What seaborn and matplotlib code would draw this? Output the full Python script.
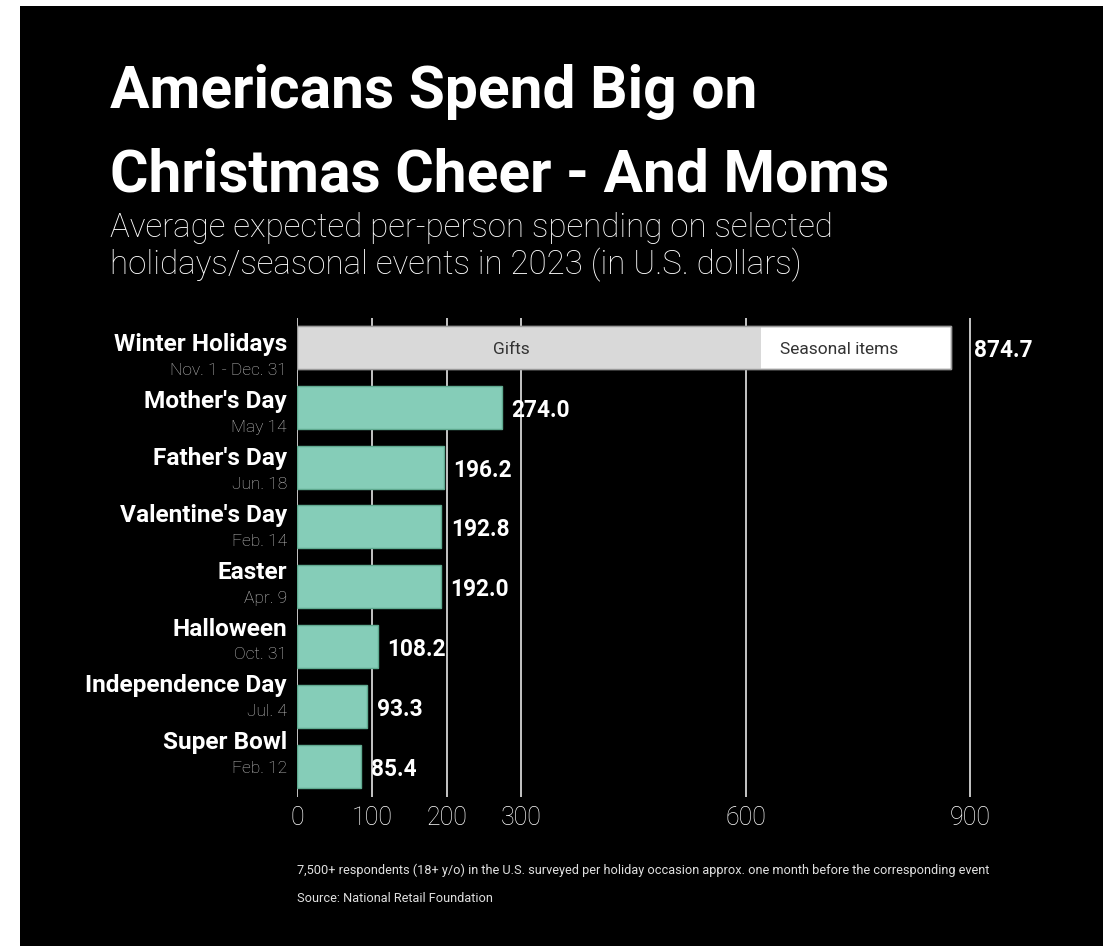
import matplotlib
matplotlib.use("Agg")
import matplotlib.pyplot as plt
import seaborn as sns
import pandas as pd
from matplotlib.patches import Rectangle
from matplotlib.transforms import blended_transform_factory

# ---------------- data ----------------
holidays = ["Winter Holidays", "Mother's Day", "Father's Day", "Valentine's Day",
            "Easter", "Halloween", "Independence Day", "Super Bowl"]
dates = ["Nov. 1 - Dec. 31", "May 14", "Jun. 18", "Feb. 14",
         "Apr. 9", "Oct. 31", "Jul. 4", "Feb. 12"]
spending = [874.7, 274.0, 196.2, 192.8, 192.0, 108.2, 93.3, 85.4]
winter_gifts = 620.0
segment_labels = ["Gifts", "Seasonal items"]
xticks = [0, 100, 200, 300, 600, 900]

title_lines = ["Americans Spend Big on", "Christmas Cheer - And Moms"]
subtitle_lines = ["Average expected per-person spending on selected",
                  "holidays/seasonal events in 2023 (in U.S. dollars)"]
footnote = ("7,500+ respondents (18+ y/o) in the U.S. surveyed per holiday occasion "
            "approx. one month before the corresponding event")
source = "Source: National Retail Foundation"

# ---------------- style ----------------
COND = ["Roboto", "DejaVu Sans"]
LIGHT = ["Roboto", "DejaVu Sans"]
TEAL = "#85cdb8"
TEAL_EDGE = "#5fa98f"
GIFT_COL = "#d9d9d9"
W, H = 1103, 946

fig = plt.figure(figsize=(W / 100, H / 100), dpi=100, facecolor="white")
fig.add_artist(Rectangle((20 / W, 0), 1 - 20 / W, 1 - 6 / H, transform=fig.transFigure,
                         facecolor="black", edgecolor="none", zorder=-10))

ax_left, ax_right_px = 297, 1045
ax_top_px, ax_bot_px = 318, 797
ax = fig.add_axes([ax_left / W, 1 - ax_bot_px / H, (ax_right_px - ax_left) / W,
                   (ax_bot_px - ax_top_px) / H])
ax.set_facecolor("none")

df = pd.DataFrame({"holiday": holidays, "spending": spending})
palette = {h: ("white" if i == 0 else TEAL) for i, h in enumerate(holidays)}
bar_h = 0.72
sns.barplot(data=df, x="spending", y="holiday", hue="holiday", palette=palette,
            legend=False, width=bar_h, saturation=1, orient="h", ax=ax,
            edgecolor=TEAL_EDGE, linewidth=1, zorder=2)
for i, p in enumerate(ax.patches):
    if i == 0:
        p.set_edgecolor("#9a9a9a")

# stacked gifts segment for winter holidays
ax.barh(0, winter_gifts, height=bar_h, color=GIFT_COL, linewidth=0, zorder=3)
ax.barh(0, spending[0], height=bar_h, fill=False, edgecolor="#9a9a9a", linewidth=1, zorder=4)

ax.set_xlim(0, 1000)
ax.set_ylim(7.517, -0.493)
ax.set_xticks(xticks)
ax.set_xticklabels([str(t) for t in xticks], fontsize=18, color="white",
                   family=LIGHT, fontweight="light")
ax.tick_params(axis="x", length=0, pad=6.5)
ax.set_yticks([])
ax.set_xlabel("")
ax.set_ylabel("")
for s in ax.spines.values():
    s.set_visible(False)
ax.grid(axis="x", color="#d4d4d4", linewidth=1.3)
ax.grid(axis="y", visible=False)
ax.set_axisbelow(True)

# segment labels
seg_left = [0, winter_gifts]
seg_width = [winter_gifts, spending[0] - winter_gifts]
for lab, l, w in zip(segment_labels, seg_left, seg_width):
    ax.text(l + w / 2 - 23, 0.11, lab, ha="center", va="baseline", fontsize=12.5,
            color="#333333", family=COND, zorder=5)

# value labels
for i, v in enumerate(spending):
    x = v + 13
    if i == 0:
        x = xticks[-1] + 5
    ax.text(x, i + 0.16, f"{v:.1f}", ha="left", va="baseline", fontsize=16.3,
            fontweight="bold", color="white", family=COND, zorder=5)

# category labels
trans = blended_transform_factory(fig.transFigure, ax.transData)
label_pitch = 0.9515
for i, (h, d) in enumerate(zip(holidays, dates)):
    yb = i * label_pitch + 0.06
    ax.text(287 / W, yb, h, transform=trans, ha="right", va="baseline", fontsize=17.6,
            fontweight="bold", color="white", family=COND, clip_on=False)
    ax.text(287 / W, yb + 0.40, d, transform=trans, ha="right", va="baseline",
            fontsize=12.5, fontweight="light", color="#c4c4c4", family=LIGHT, clip_on=False)

# titles
fig.text(110 / W, 1 - 108 / H, title_lines[0], fontsize=42.3, fontweight="bold",
         color="white", family=COND, va="baseline")
fig.text(110 / W, 1 - 192 / H, title_lines[1], fontsize=42.3, fontweight="bold",
         color="white", family=COND, va="baseline")
fig.text(110 / W, 1 - 237 / H, subtitle_lines[0], fontsize=23.8, fontweight="light",
         color="white", family=LIGHT, va="baseline")
fig.text(110 / W, 1 - 274 / H, subtitle_lines[1], fontsize=23.8, fontweight="light",
         color="white", family=LIGHT, va="baseline")

fig.text(297 / W, 1 - 874 / H, footnote, fontsize=9.2, color="#e0e0e0", family=COND,
         va="baseline")
fig.text(297 / W, 1 - 902 / H, source, fontsize=9.2, color="#e0e0e0", family=COND,
         va="baseline")

fig.savefig("out.png", dpi=100, facecolor=fig.get_facecolor())
